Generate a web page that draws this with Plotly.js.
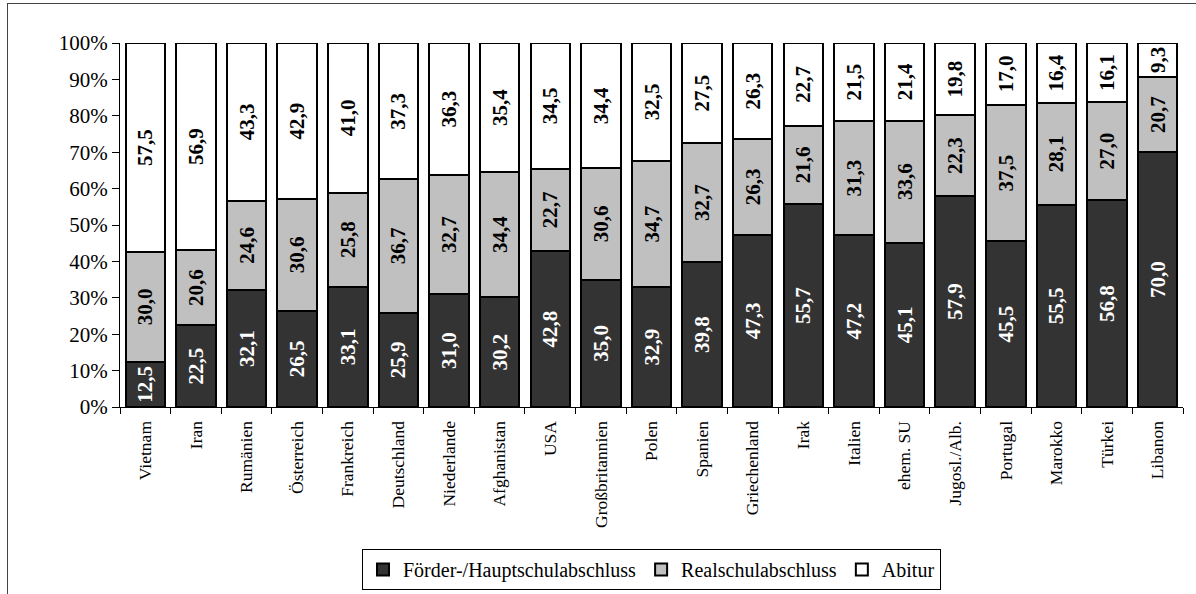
<!DOCTYPE html>
<html>
<head>
<meta charset="utf-8">
<script src="https://cdn.plot.ly/plotly-3.0.1.min.js"></script>
<style>
  html, body { margin: 0; padding: 0; background: #fff; }
  #chart { position: absolute; left: 0; top: 0; width: 1196px; height: 594px; }
  #frame { position: absolute; left: 7px; top: 3px; width: 1189px; height: 591px;
           border-left: 1.5px solid #444; border-top: 1.5px solid #444; pointer-events: none; box-sizing: border-box; }
</style>
</head>
<body>
<div id="chart"></div>
<div id="frame"></div>
<script>
const countries = ["Vietnam", "Iran", "Rumänien", "Österreich", "Frankreich", "Deutschland", "Niederlande",
  "Afghanistan", "USA", "Großbritannien", "Polen", "Spanien", "Griechenland", "Irak", "Italien",
  "ehem. SU", "Jugosl./Alb.", "Portugal", "Marokko", "Türkei", "Libanon"];
const hauptschule = [12.5, 22.5, 32.1, 26.5, 33.1, 25.9, 31.0, 30.2, 42.8, 35.0, 32.9, 39.8, 47.3, 55.7, 47.2, 45.1, 57.9, 45.5, 55.5, 56.8, 70.0];
const realschule = [30.0, 20.6, 24.6, 30.6, 25.8, 36.7, 32.7, 34.4, 22.7, 30.6, 34.7, 32.7, 26.3, 21.6, 31.3, 33.6, 22.3, 37.5, 28.1, 27.0, 20.7];
const abitur = [57.5, 56.9, 43.3, 42.9, 41.0, 37.3, 36.3, 35.4, 34.5, 34.4, 32.5, 27.5, 26.3, 22.7, 21.5, 21.4, 19.8, 17.0, 16.4, 16.1, 9.3];
const seriesNames = ["Förder-/Hauptschulabschluss", "Realschulabschluss", "Abitur"];
const yTicks = [0, 10, 20, 30, 40, 50, 60, 70, 80, 90, 100];

const fmt = v => v.toFixed(1).replace('.', ',');
const serif = "Liberation Serif, Times New Roman, serif";

function mk(name, vals, fill, txtColor) {
  return {
    type: 'bar', name: name, x: countries, y: vals,
    text: vals.map(fmt), textposition: 'inside', insidetextanchor: 'middle',
    textangle: -90, constraintext: 'none',
    textfont: { family: serif, size: 21, color: txtColor, weight: 'bold' },
    marker: { color: fill, line: { color: '#000', width: 2 } },
    hoverinfo: 'x+y'
  };
}

const data = [
  mk(seriesNames[0], hauptschule, '#333333', '#ffffff'),
  mk(seriesNames[1], realschule, '#c0c0c0', '#000000'),
  mk(seriesNames[2], abitur, '#ffffff', '#000000')
];

const layout = {
  width: 1196, height: 594,
  margin: { l: 120, r: 13, t: 43, b: 187, autoexpand: false },
  paper_bgcolor: 'rgba(0,0,0,0)', plot_bgcolor: '#fff',
  barmode: 'stack', bargap: 0.22,
  showlegend: true,
  legend: {
    orientation: 'h', x: 0.5, xanchor: 'center', y: -0.39, yanchor: 'top',
    bordercolor: '#000', borderwidth: 1, bgcolor: '#fff',
    font: { family: serif, size: 20, color: '#000' },
    traceorder: 'normal', itemwidth: 30
  },
  xaxis: {
    type: 'category', tickangle: -90, tickson: 'boundaries',
    ticks: 'outside', ticklen: 6, tickcolor: '#000', tickwidth: 1,
    ticklabelstandoff: 6,
    showline: true, linecolor: '#000', linewidth: 1,
    tickfont: { family: serif, size: 17.5, color: '#000' },
    showgrid: false, zeroline: false
  },
  yaxis: {
    range: [0, 100], tickvals: yTicks, ticktext: yTicks.map(v => v + '%'),
    ticks: 'outside', ticklen: 7, tickcolor: '#000', tickwidth: 1,
    showline: true, linecolor: '#000', linewidth: 1,
    tickfont: { family: serif, size: 21, color: '#000' },
    showgrid: false, zeroline: false
  }
};

Plotly.newPlot('chart', data, layout, { displayModeBar: false, staticPlot: true });
</script>
</body>
</html>
